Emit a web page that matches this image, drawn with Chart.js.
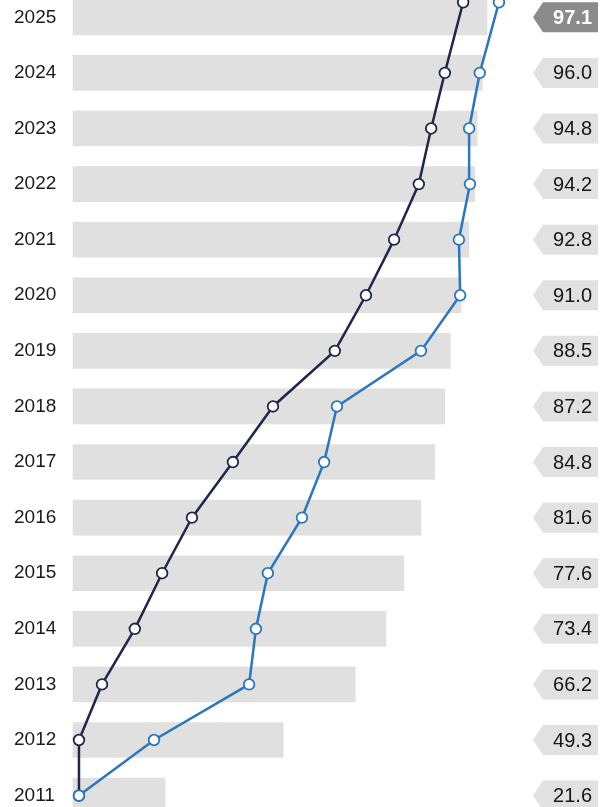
<!DOCTYPE html>
<html>
<head>
<meta charset="utf-8">
<script src="https://cdn.jsdelivr.net/npm/chart.js@4.4.1/dist/chart.umd.min.js"></script>
<style>
    html, body { margin: 0; padding: 0; background: #fff; }
    #wrap { width: 605px; height: 807px; position: relative; }
</style>
</head>
<body>
<div id="wrap"><canvas id="chart"></canvas></div>
<script>
// years, bottom to top
var years = [2011, 2012, 2013, 2014, 2015, 2016, 2017, 2018, 2019, 2020, 2021, 2022, 2023, 2024, 2025];
// gray bars + tag labels
var barValues = [21.6, 49.3, 66.2, 73.4, 77.6, 81.6, 84.8, 87.2, 88.5, 91.0, 92.8, 94.2, 94.8, 96.0, 97.1];
// the two lines
var darkValues = [1.4, 1.4, 6.8, 14.5, 20.9, 27.9, 37.5, 46.9, 61.4, 68.7, 75.3, 81.1, 84.0, 87.2, 91.5];
var blueValues = [1.4, 19.0, 41.3, 42.9, 45.7, 53.7, 58.9, 61.9, 81.6, 90.8, 90.5, 93.1, 92.9, 95.4, 99.9];
// where the line points sit on the year scale (latest one is a bit later)
var pointYears = [2011, 2012, 2013, 2014, 2015, 2016, 2017, 2018, 2019, 2020, 2021, 2022, 2023, 2024, 2025.27];

var FONT = "'Liberation Sans', Arial, sans-serif";

function toPoints(vals, ys) {
    var pts = [];
    for (var i = 0; i < vals.length; i++) {
        pts.push({ x: vals[i], y: ys[i] });
    }
    return pts;
}

// chart.js skips points that fall outside the chart area, draw those here
var edgePoints = {
    id: 'edgePoints',
    afterDatasetsDraw: function (chart) {
        var area = chart.chartArea;
        var full = { left: 0, top: -20, right: chart.width, bottom: chart.height };
        chart.getSortedVisibleDatasetMetas().forEach(function (meta) {
            if (meta.type !== 'line') return;
            meta.data.forEach(function (pt) {
                if (pt.y < area.top - 6 || pt.y > area.bottom + 6) {
                    pt.draw(chart.ctx, full);
                }
            });
        });
    }
};

// value tags on the right (arrow pointing left)
var tagPlugin = {
    id: 'tags',
    afterDraw: function (chart) {
        var ctx = chart.ctx;
        var yScale = chart.scales.y;
        var right = chart.width - 7;
        var left = right - 65;
        var notch = 10;
        var h = 30;
        ctx.save();
        for (var i = 0; i < barValues.length; i++) {
            var y = yScale.getPixelForValue(years[i]);
            var last = i === barValues.length - 1;
            ctx.beginPath();
            ctx.moveTo(left, y);
            ctx.lineTo(left + notch, y - h / 2);
            ctx.lineTo(right, y - h / 2);
            ctx.lineTo(right, y + h / 2);
            ctx.lineTo(left + notch, y + h / 2);
            ctx.closePath();
            ctx.fillStyle = last ? '#8b8b8e' : '#e1e1e1';
            ctx.fill();
            ctx.fillStyle = last ? '#ffffff' : '#151515';
            ctx.font = (last ? 'bold ' : '') + '20px ' + FONT;
            ctx.textAlign = 'right';
            ctx.textBaseline = 'middle';
            ctx.fillText(barValues[i].toFixed(1), right - 6, y + 1);
        }
        ctx.restore();
    }
};

var ctx = document.getElementById('chart').getContext('2d');
new Chart(ctx, {
    type: 'bar',
    data: {
        datasets: [
            {
                type: 'line',
                label: 'blue',
                data: toPoints(blueValues, pointYears),
                borderColor: '#2a77c0',
                borderWidth: 2.5,
                pointBackgroundColor: '#ffffff',
                pointBorderColor: '#2a77c0',
                pointBorderWidth: 1.8,
                pointRadius: 5.3,
                tension: 0,
                clip: false,
                order: 1
            },
            {
                type: 'line',
                label: 'dark',
                data: toPoints(darkValues, pointYears),
                borderColor: '#1f284b',
                borderWidth: 2.5,
                pointBackgroundColor: '#ffffff',
                pointBorderColor: '#1f284b',
                pointBorderWidth: 1.8,
                pointRadius: 5.3,
                tension: 0,
                clip: false,
                order: 2
            },
            {
                label: 'bars',
                data: toPoints(barValues, years),
                backgroundColor: '#e0e0e0',
                barThickness: 35,
                clip: false,
                order: 3
            }
        ]
    },
    options: {
        indexAxis: 'y',
        responsive: true,
        maintainAspectRatio: false,
        animation: false,
        layout: {
            padding: { top: 17.3, bottom: 10, right: 105.6, left: 14 }
        },
        plugins: {
            legend: { display: false },
            tooltip: { enabled: false }
        },
        scales: {
            x: {
                type: 'linear',
                min: 0,
                max: 100,
                display: false
            },
            y: {
                type: 'linear',
                min: 2011,
                max: 2025,
                offset: false,
                grid: { display: false, drawTicks: false },
                border: { display: false },
                ticks: {
                    stepSize: 1,
                    autoSkip: false,
                    padding: 0,
                    crossAlign: 'far',
                    color: '#1a1a1a',
                    font: { family: FONT, size: 19 },
                    callback: function (v) { return String(v); }
                },
                afterFit: function (scale) {
                    scale.width = 59;
                }
            }
        }
    },
    plugins: [edgePoints, tagPlugin]
});
</script>
</body>
</html>
